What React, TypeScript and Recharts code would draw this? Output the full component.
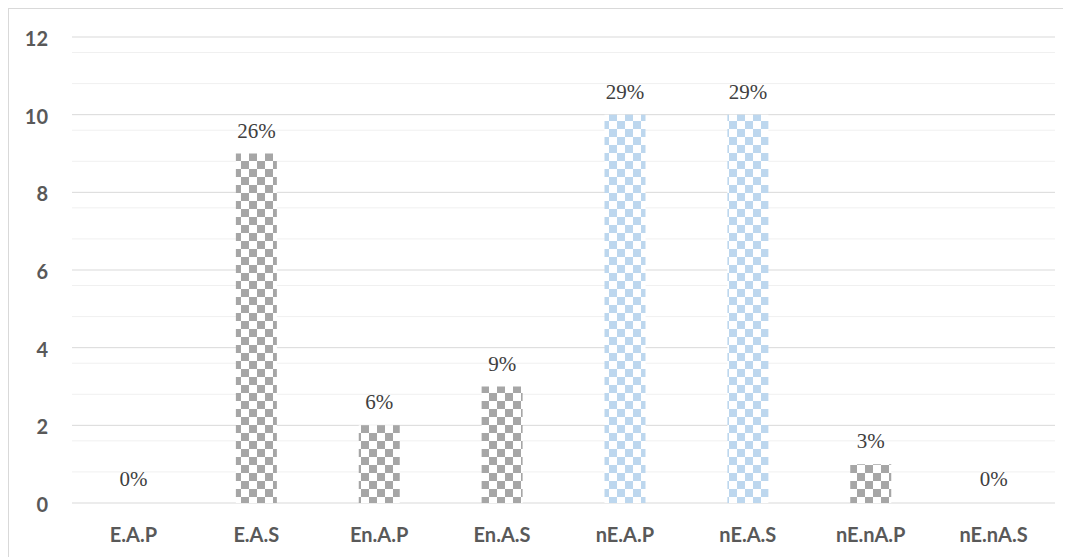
import { Bar, BarChart, CartesianGrid, Cell, LabelList, XAxis, YAxis } from "recharts";

const categories = ["E.A.P", "E.A.S", "En.A.P", "En.A.S", "nE.A.P", "nE.A.S", "nE.nA.P", "nE.nA.S"];
const counts = [0, 9, 2, 3, 10, 10, 1, 0];
const shares = ["0%", "26%", "6%", "9%", "29%", "29%", "3%", "0%"];
const highlighted = [false, false, false, false, true, true, false, false];
const yTicks = [0, 2, 4, 6, 8, 10, 12];
const minorLines = [
  0.4, 0.8, 1.2, 1.6, 2.4, 2.8, 3.2, 3.6, 4.4, 4.8, 5.2, 5.6, 6.4, 6.8, 7.2, 7.6, 8.4, 8.8, 9.2, 9.6,
  10.4, 10.8, 11.2, 11.6,
];

const data = categories.map((name, i) => ({ name, value: counts[i], share: shares[i] }));

const tickStyle = { fontFamily: "Lato, 'Open Sans', sans-serif", fontWeight: 700, fontSize: 20, fill: "#595959" };

// zero bars still need a slot so their "0%" label is drawn
const zeroSlot = (value: number) => (value === 0 ? 1 : 0);

export default function App() {
  return (
    <div
      style={{
        width: 1062,
        height: 555,
        border: "1px solid #d9d9d9",
        background: "#fff",
      }}
    >
      <BarChart width={1062} height={540} data={data} margin={{ top: 28, right: 16, bottom: 0, left: 0 }}>
        <defs>
          <pattern id="grayCheck" patternUnits="userSpaceOnUse" width={16} height={16}>
            <rect width={16} height={16} fill="#ffffff" />
            <rect x={0} y={0} width={8} height={8} fill="#a6a6a6" />
            <rect x={8} y={8} width={8} height={8} fill="#a6a6a6" />
          </pattern>
          <pattern id="blueCheck" patternUnits="userSpaceOnUse" width={16} height={16}>
            <rect width={16} height={16} fill="#ffffff" />
            <rect x={0} y={0} width={8} height={8} fill="#bdd7ee" />
            <rect x={8} y={8} width={8} height={8} fill="#bdd7ee" />
          </pattern>
        </defs>
        <CartesianGrid vertical={false} horizontalValues={minorLines} stroke="#f0f0f0" />
        <CartesianGrid vertical={false} horizontalValues={yTicks} stroke="#d9d9d9" />
        <XAxis
          dataKey="name"
          height={46}
          axisLine={false}
          tickLine={false}
          tickSize={0}
          tickMargin={25}
          tick={tickStyle}
        />
        <YAxis
          width={63}
          domain={[0, 12]}
          ticks={yTicks}
          axisLine={false}
          tickLine={false}
          tickSize={0}
          tickMargin={24}
          tick={{ ...tickStyle, dy: 2 }}
        />
        <Bar dataKey="value" barSize={41} minPointSize={zeroSlot} isAnimationActive={false}>
          {data.map((d, i) => (
            <Cell
              key={d.name}
              fill={d.value === 0 ? "none" : highlighted[i] ? "url(#blueCheck)" : "url(#grayCheck)"}
            />
          ))}
          <LabelList
            dataKey="share"
            position="top"
            offset={16}
            style={{ fontFamily: "'Liberation Serif', 'Times New Roman', serif", fontSize: 21, fill: "#404040" }}
          />
        </Bar>
      </BarChart>
    </div>
  );
}
